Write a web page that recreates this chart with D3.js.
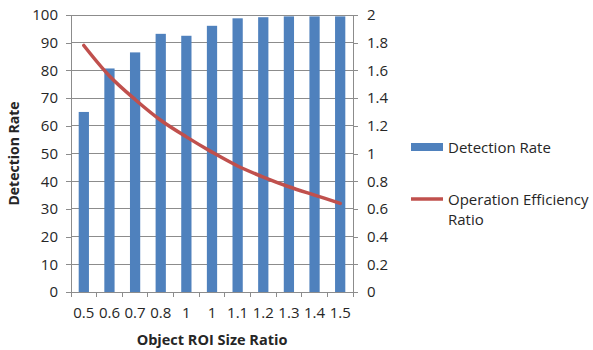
<!DOCTYPE html>
<html>
<head>
<meta charset="utf-8">
<script src="https://cdn.jsdelivr.net/npm/d3@7"></script>
<style>
  html, body { margin: 0; padding: 0; background: #fff; }
  svg { display: block; font-family: "Open Sans", "Noto Sans", sans-serif; }
</style>
</head>
<body>
<svg id="chart" width="593" height="350"></svg>
<script>
// Category labels along the x axis
const categories = ["0.5", "0.6", "0.7", "0.8", "1", "1", "1.1", "1.2", "1.3", "1.4", "1.5"];
// Detection rate (%) per category — left axis
const detectionRate = [65, 80.7, 86.5, 93.2, 92.5, 96.1, 98.8, 99.2, 99.5, 99.5, 99.5];
// Operation efficiency ratio per category — right axis
const efficiencyRatio = [1.78, 1.56, 1.39, 1.24, 1.12, 1.01, 0.91, 0.83, 0.76, 0.70, 0.64];
// Axis tick values
const leftTicks = [0, 10, 20, 30, 40, 50, 60, 70, 80, 90, 100];
const rightTicks = [0, 0.2, 0.4, 0.6, 0.8, 1, 1.2, 1.4, 1.6, 1.8, 2];

const svg = d3.select("#chart");
const plot = { left: 71, right: 353, top: 15, bottom: 292 };
const textColor = "#262626";
const gridColor = "#8c8c8c";

const idx = d3.range(categories.length);
const x = d3.scaleBand().domain(idx).range([plot.left, plot.right]).paddingInner(0.6).paddingOuter(0.3);
const xOuter = d3.scaleBand().domain(idx).range([plot.left, plot.right]);
const yL = d3.scaleLinear().domain([0, 100]).range([plot.bottom, plot.top]);
const yR = d3.scaleLinear().domain([0, 2]).range([plot.bottom, plot.top]);

// Horizontal gridlines
svg.append("g").selectAll("line").data(leftTicks).join("line")
  .attr("x1", plot.left).attr("x2", plot.right)
  .attr("y1", d => yL(d)).attr("y2", d => yL(d))
  .attr("stroke", gridColor).attr("stroke-width", 1)
  .attr("shape-rendering", "crispEdges");

// Left axis
const leftAxis = svg.append("g").attr("transform", `translate(${plot.left},0)`)
  .call(d3.axisLeft(yL).tickValues(leftTicks).tickSize(5).tickPadding(8));
// Right axis
const rightAxis = svg.append("g").attr("transform", `translate(${plot.right},0)`)
  .call(d3.axisRight(yR).tickValues(rightTicks).tickSize(5).tickPadding(9)
    .tickFormat(d => d3.format("~g")(d)));
// Bottom axis with ticks at category boundaries
const bottomAxis = svg.append("g").attr("transform", `translate(0,${plot.bottom})`)
  .call(d3.axisBottom(xOuter).tickFormat(i => categories[i]).tickSize(0).tickPadding(15));
bottomAxis.selectAll(".tick line").remove();
svg.append("g").selectAll("line").data(d3.range(categories.length + 1)).join("line")
  .attr("x1", i => plot.left + i * xOuter.step()).attr("x2", i => plot.left + i * xOuter.step())
  .attr("y1", plot.bottom).attr("y2", plot.bottom + 5)
  .attr("stroke", gridColor).attr("shape-rendering", "crispEdges");

[leftAxis, rightAxis, bottomAxis].forEach(g => {
  g.selectAll(".domain").attr("stroke", gridColor).attr("shape-rendering", "crispEdges");
  g.selectAll(".tick line").attr("stroke", gridColor).attr("shape-rendering", "crispEdges");
  g.selectAll("text").attr("fill", textColor).attr("font-size", 15)
    .attr("font-family", "'Open Sans', 'Noto Sans', sans-serif");
});
bottomAxis.select(".domain").attr("d", `M${plot.left},0H${plot.right}`);

// Bars
svg.append("g").selectAll("rect").data(detectionRate).join("rect")
  .attr("x", (d, i) => x(i))
  .attr("width", x.bandwidth())
  .attr("y", d => yL(d))
  .attr("height", d => yL(0) - yL(d))
  .attr("fill", "#4F81BD");

// Smoothed efficiency line
const line = d3.line()
  .x((d, i) => xOuter(i) + xOuter.bandwidth() / 2)
  .y(d => yR(d))
  .curve(d3.curveCatmullRom.alpha(0.5));
svg.append("path").datum(efficiencyRatio)
  .attr("d", line)
  .attr("fill", "none")
  .attr("stroke", "#C0504D")
  .attr("stroke-width", 3.5)
  .attr("stroke-linecap", "round");

// Axis titles
svg.append("text")
  .attr("transform", `translate(19,${(plot.top + plot.bottom) / 2}) rotate(-90)`)
  .attr("text-anchor", "middle")
  .attr("font-size", 14).attr("font-weight", "bold").attr("fill", textColor)
  .text("Detection Rate");
svg.append("text")
  .attr("x", (plot.left + plot.right) / 2).attr("y", 345)
  .attr("text-anchor", "middle")
  .attr("font-size", 14.5).attr("font-weight", "bold").attr("fill", textColor)
  .text("Object ROI Size Ratio");

// Legend
const legend = svg.append("g").attr("font-size", 15).attr("fill", textColor);
legend.append("rect").attr("x", 411).attr("y", 143).attr("width", 32).attr("height", 8).attr("fill", "#4F81BD");
legend.append("text").attr("x", 448).attr("y", 152.5).text("Detection Rate");
legend.append("line").attr("x1", 411).attr("x2", 443).attr("y1", 199).attr("y2", 199)
  .attr("stroke", "#C0504D").attr("stroke-width", 3.5);
legend.append("text").attr("x", 448).attr("y", 205).text("Operation Efficiency");
legend.append("text").attr("x", 448).attr("y", 225).text("Ratio");
</script>
</body>
</html>
